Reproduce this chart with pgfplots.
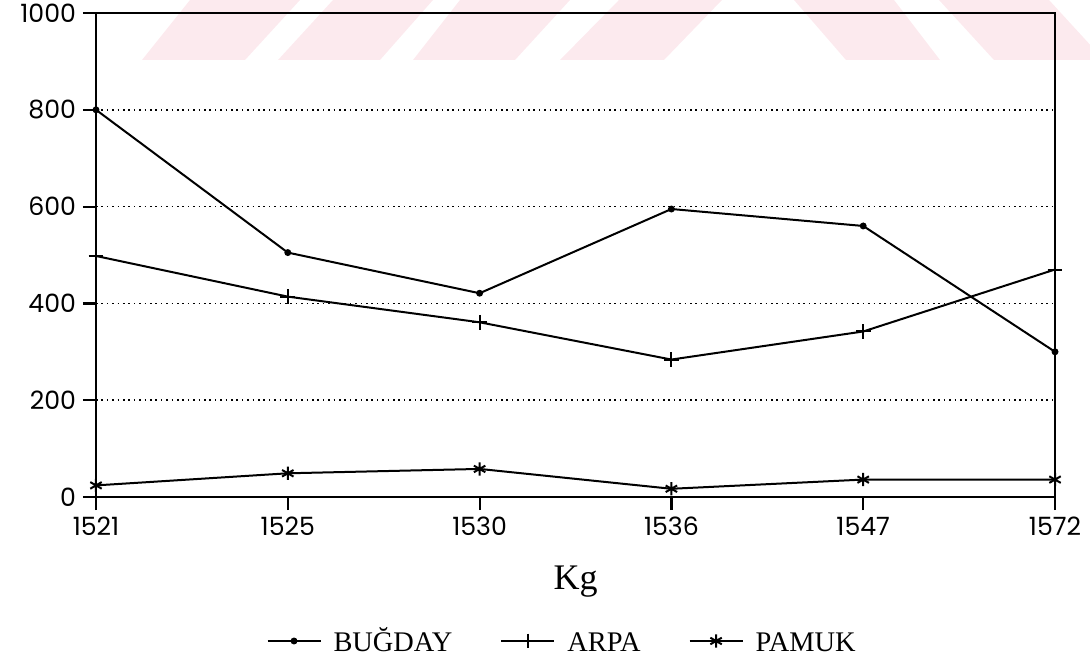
\documentclass[border=0pt]{standalone}
\usepackage{pgfplots}
\pgfplotsset{compat=1.18}
\usepackage{fontspec}
\setmainfont{Liberation Serif}
\newfontfamily\tickfont{Poppins}
\definecolor{wm}{RGB}{252,234,238}
\begin{document}
\begin{tikzpicture}
\begin{axis}[
  name=ax,
  scale only axis, width=479.5pt, height=242pt,
  xmin=0, xmax=5, ymin=0, ymax=1000,
  xtick={0,1,2,3,4,5}, xticklabels={1521,1525,1530,1536,1547,1572},
  ytick={0,200,400,600,800,1000},
  xtick pos=bottom, ytick pos=left,
  tick align=outside, major tick length=6.5pt,
  tick style={line width=1.1pt, black},
  axis line style={line width=1.2pt},
  ymajorgrids, grid style={black, line width=0.8pt, dash pattern=on 0.8pt off 1.9pt},
  axis on top,
  clip=false,
  ticklabel style={font=\tickfont\fontsize{12.6}{15}\selectfont},
  /pgf/number format/assume math mode=true,
  /pgf/number format/1000 sep={},
  xlabel={Kg},
  xlabel style={font=\fontsize{18}{20}\selectfont, at={(axis description cs:0.5,-0.192)}, anchor=base},
  legend style={draw=none, fill=none, at={(axis description cs:0.487,-0.2975)}, anchor=center,
    legend columns=3, font=\fontsize{14.2}{16}\selectfont,
    /tikz/every odd column/.append style={column sep=4pt},
    /tikz/every even column/.append style={column sep=22pt}},
  legend image code/.code={\draw[mark repeat=2, mark phase=2, #1] plot coordinates {(0pt,0pt) (13.25pt,0pt) (26.5pt,0pt)};},
]
% watermark stripes
\fill[wm] (0.2398,902.9) -- (0.7769,902.9) -- (1.0636,1026.9) -- (0.4901,1026.9) -- cycle;
\fill[wm] (0.9489,902.9) -- (1.4807,902.9) -- (1.7570,1026.9) -- (1.2357,1026.9) -- cycle;
\fill[wm] (1.6528,902.9) -- (2.1846,902.9) -- (2.4713,1026.9) -- (1.8978,1026.9) -- cycle;
\fill[wm] (2.4192,902.9) -- (2.9614,902.9) -- (3.2638,1026.9) -- (2.7268,1026.9) -- cycle;
\fill[wm] (3.9103,902.9) -- (4.4004,902.9) -- (4.1606,1026.9) -- (3.6392,1026.9) -- cycle;
\fill[wm] (4.6819,902.9) -- (5.1825,902.9) -- (5.1825,934.5) -- (4.9687,1026.9) -- (4.3952,1026.9) -- cycle;

\addplot[black, line width=1pt, mark=*, mark size=1.2pt] coordinates {
  (0,800) (1,505) (2,421) (3,595) (4,560) (5,300)};
\addlegendentry{BUĞDAY}
\addplot[black, line width=1pt, mark=+, mark size=3.7pt, mark options={line width=1pt}] coordinates {
  (0,498) (1,414) (2,361) (3,284) (4,342) (5,470)};
\addlegendentry{\vphantom{Ğ}ARPA}
\addplot[black, line width=1pt, mark=asterisk, mark size=3.3pt, mark options={line width=1pt}] coordinates {
  (0,24) (1,49) (2,58) (3,17) (4,36) (5,36)};
\addlegendentry{\vphantom{Ğ}PAMUK}
\end{axis}
\pgfresetboundingbox
\path ([shift={(-48pt,-81pt)}]ax.south west) rectangle ([shift={(497pt,248.5pt)}]ax.south west);
\end{tikzpicture}
\end{document}
